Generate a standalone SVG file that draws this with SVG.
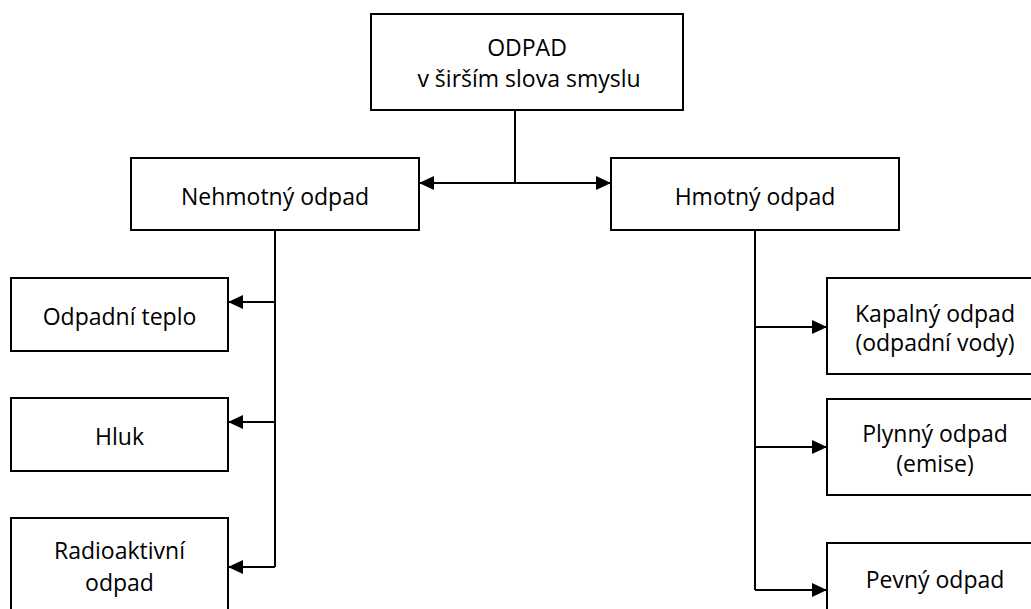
<svg xmlns="http://www.w3.org/2000/svg" width="1031" height="609" viewBox="0 0 1031 609">
  <style>
    .box { fill: #ffffff; stroke: #000000; stroke-width: 2; }
    .lbl { font-family: "Open Sans", "Noto Sans", "DejaVu Sans", sans-serif; font-size: 23px; fill: #000000; text-anchor: middle; }
    .conn { fill: none; stroke: #000000; stroke-width: 2; }
    .arr { marker-end: url(#head); }
  </style>
  <defs>
    <marker id="head" markerUnits="userSpaceOnUse" markerWidth="15" markerHeight="14" refX="15" refY="7" orient="auto">
      <path d="M0,0 L15,7 L0,14 Z" fill="#000000"/>
    </marker>
  </defs>

  <rect width="1031" height="609" fill="#ffffff"/>

  <!-- connectors -->
  <g id="connectors">
    <!-- root to the two main branches -->
    <path class="conn" d="M515,110 V183"/>
    <path class="conn arr" d="M515,183 H419"/>
    <path class="conn arr" d="M515,183 H611"/>
    <!-- intangible waste branch -->
    <path class="conn" d="M275,230 V567"/>
    <path class="conn arr" d="M275,302 H228"/>
    <path class="conn arr" d="M275,422 H228"/>
    <path class="conn arr" d="M275,567 H228"/>
    <!-- tangible waste branch -->
    <path class="conn" d="M755,230 V590"/>
    <path class="conn arr" d="M755,327 H827"/>
    <path class="conn arr" d="M755,447 H827"/>
    <path class="conn arr" d="M755,590 H827"/>
  </g>

  <!-- nodes -->
  <g id="odpad">
    <rect class="box" x="371" y="14" width="312" height="96"/>
    <text class="lbl" x="527" y="56">ODPAD</text>
    <text class="lbl" x="529" y="87">v širším slova smyslu</text>
  </g>

  <g id="nehmotny">
    <rect class="box" x="131" y="158" width="288" height="72"/>
    <text class="lbl" x="275" y="205">Nehmotný odpad</text>
  </g>

  <g id="hmotny">
    <rect class="box" x="611" y="158" width="288" height="72"/>
    <text class="lbl" x="755" y="205">Hmotný odpad</text>
  </g>

  <g id="teplo">
    <rect class="box" x="11" y="278" width="217" height="73"/>
    <text class="lbl" x="119.5" y="325">Odpadní teplo</text>
  </g>

  <g id="hluk">
    <rect class="box" x="11" y="398" width="217" height="73"/>
    <text class="lbl" x="119.5" y="445">Hluk</text>
  </g>

  <g id="radioaktivni">
    <rect class="box" x="11" y="518" width="217" height="110"/>
    <text class="lbl" x="119.5" y="559">Radioaktivní</text>
    <text class="lbl" x="119.5" y="591">odpad</text>
  </g>

  <g id="kapalny">
    <rect class="box" x="827" y="278" width="216" height="96"/>
    <text class="lbl" x="935" y="322">Kapalný odpad</text>
    <text class="lbl" x="935" y="351">(odpadní vody)</text>
  </g>

  <g id="plynny">
    <rect class="box" x="827" y="399" width="216" height="96"/>
    <text class="lbl" x="935" y="442">Plynný odpad</text>
    <text class="lbl" x="935" y="472">(emise)</text>
  </g>

  <g id="pevny">
    <rect class="box" x="827" y="543" width="216" height="96"/>
    <text class="lbl" x="935" y="588">Pevný odpad</text>
  </g>
</svg>
